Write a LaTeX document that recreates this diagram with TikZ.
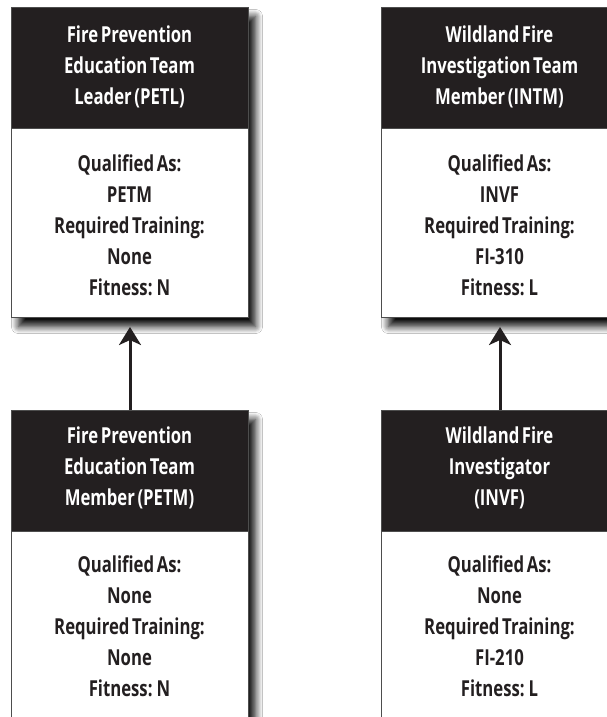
\documentclass[tikz,border=0pt]{standalone}
\usepackage{fontspec}
\setmainfont{Open Sans}[FakeStretch=0.76, WordSpace=0.6]
\usetikzlibrary{shadows.blur,arrows.meta}
\definecolor{ink}{HTML}{231F20}
\definecolor{edge}{HTML}{4D4D4D}
\tikzset{
 cardframe/.style={draw=edge, line width=1pt, fill=white, anchor=north west, minimum width=237pt, minimum height=#1, inner sep=0pt,
   blur shadow={shadow xshift=7pt, shadow yshift=-9pt, shadow blur radius=7pt, shadow blur steps=10, shadow opacity=95}},
 cardhead/.style={fill=ink, draw=edge, line width=1pt, anchor=north west, minimum width=237pt, minimum height=121pt, inner sep=0pt},
 htext/.style={text=white, font=\bfseries\fontsize{22}{31}\selectfont, align=center},
 btext/.style={text=ink, font=\bfseries\fontsize{22}{31}\selectfont, align=center},
 link/.style={draw=ink, line width=3pt, -{Stealth[length=18pt,width=22pt,inset=5pt]}}
}
\begin{document}
\begin{tikzpicture}[x=1pt,y=-1pt]
\useasboundingbox (0,0) rectangle (607,717);
\clip (0,0) rectangle (607,717);
\fill[white] (0,0) rectangle (607,717);
% top left
\node[cardframe=310pt] (petlbox) at (11,7) {};
\node[cardhead] (petlhead) at (11,7) {};
\node[htext] (petltitle) at (129.5,67) {Fire Prevention\\Education Team\\Leader (PETL)};
\node[btext] (petlbody) at (129.5,225) {Qualified As:\\PETM\\Required Training:\\None\\Fitness: N};
% top right
\node[cardframe=310pt] (intmbox) at (381,7) {};
\node[cardhead] (intmhead) at (381,7) {};
\node[htext] (intmtitle) at (499.5,67) {Wildland Fire\\Investigation Team\\Member (INTM)};
\node[btext] (intmbody) at (499.5,225) {Qualified As:\\INVF\\Required Training:\\FI-310\\Fitness: L};
% bottom left
\node[cardframe=400pt] (petmbox) at (11,410) {};
\node[cardhead] (petmhead) at (11,410) {};
\node[htext] (petmtitle) at (129.5,468) {Fire Prevention\\Education Team\\Member (PETM)};
\node[btext] (petmbody) at (129.5,626) {Qualified As:\\None\\Required Training:\\None\\Fitness: N};
% bottom right
\node[cardframe=400pt] (invfbox) at (381,410) {};
\node[cardhead] (invfhead) at (381,410) {};
\node[htext] (invftitle) at (499.5,468) {Wildland Fire\\Investigator\\(INVF)};
\node[btext] (invfbody) at (499.5,626) {Qualified As:\\None\\Required Training:\\FI-210\\Fitness: L};
% arrows
\draw[link] (petmhead.north) -- ([yshift=-9pt]petlbox.south);
\draw[link] (invfhead.north) -- ([yshift=-9pt]intmbox.south);
\end{tikzpicture}
\end{document}
